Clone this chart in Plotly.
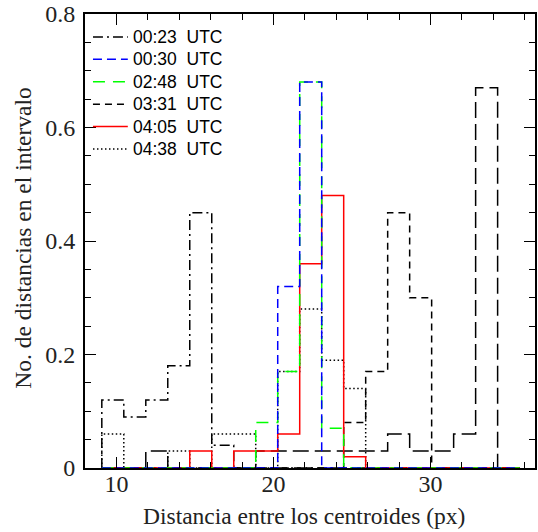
import plotly.graph_objects as go

# Bin edges (px distance)
bin_edges = [9.07, 10.47, 11.87, 13.27, 14.67, 16.07, 17.47, 18.87, 20.27, 21.67,
             23.07, 24.47, 25.87, 27.27, 28.67, 30.07, 31.47, 32.87, 34.27, 35.67]

# Fraction of distances in each bin (19 bins)
t0023 = [0.12, 0.09, 0.12, 0.18, 0.45, 0.04, 0, 0, 0, 0, 0, 0, 0, 0, 0, 0, 0, 0, 0]
t0030 = [0, 0, 0, 0, 0, 0, 0, 0, 0.32, 0.68, 0, 0, 0, 0, 0, 0, 0, 0, 0]
t0248 = [0, 0, 0, 0, 0, 0, 0, 0.08, 0.17, 0.68, 0.07, 0, 0, 0, 0, 0, 0, 0, 0]
t0331 = [0, 0, 0, 0, 0, 0, 0, 0, 0, 0, 0, 0.08, 0.17, 0.45, 0.30, 0, 0, 0, 0]
t0405 = [0, 0, 0, 0, 0.03, 0, 0.03, 0.03, 0.06, 0.36, 0.48, 0.02, 0, 0, 0, 0, 0, 0, 0]
t0438 = [0.06, 0, 0, 0.03, 0, 0.06, 0.06, 0, 0.17, 0.28, 0.19, 0.14, 0, 0, 0, 0, 0, 0, 0]
extra = [0, 0, 0.03, 0, 0, 0, 0, 0.03, 0.03, 0.03, 0.03, 0.03, 0.03, 0.06, 0.03, 0.03, 0.06, 0.67, 0]

series_names = ["00:23  UTC", "00:30  UTC", "02:48  UTC", "03:31  UTC", "04:05  UTC", "04:38  UTC"]

x_ticks = [10, 20, 30]
y_ticks = [0, 0.2, 0.4, 0.6, 0.8]
y_ticklabels = ["0", "0.2", "0.4", "0.6", "0.8"]

# plot area in pixels (for placing the hand-made legend)
PL, PR, PT, PB = 85, 537, 13, 468


def px_x(p):
    return (p - PL) / (PR - PL)


def px_y(p):
    return (PB - p) / (PB - PT)


def step_xy(values):
    xs = [bin_edges[0]] + list(bin_edges)
    ys = [0] + list(values) + [0]
    return xs, ys


fig = go.Figure()

styles = [
    # (values, legend index, color, dash)
    (extra, None, "black", "16px,6px"),
    (t0331, 3, "black", "7px,5px"),
    (t0023, 0, "black", "10px,4px,2px,4px"),
    (t0438, 5, "black", "1.5px,2.5px"),
    (t0405, 4, "#ff0000", "solid"),
    (t0248, 2, "#00ff00", "12px,8px"),
    (t0030, 1, "#0000ff", "9px,5px"),
]

legend_rows = {}
for vals, idx, color, dash in styles:
    xs, ys = step_xy(vals)
    fig.add_trace(go.Scatter(
        x=xs, y=ys, mode="lines", line_shape="hv",
        line=dict(color=color, width=1.5, dash=dash),
        name=series_names[idx] if idx is not None else "",
        showlegend=False, hoverinfo="skip",
    ))
    if idx is not None:
        legend_rows[idx] = (color, dash)

shapes = []
annotations = []
row_y0, row_step = 36, 22.45
for idx in range(len(series_names)):
    color, dash = legend_rows[idx]
    yy = px_y(row_y0 + idx * row_step)
    shapes.append(dict(type="line", xref="paper", yref="paper",
                       x0=px_x(93), x1=px_x(128), y0=yy, y1=yy,
                       line=dict(color=color, width=1.5, dash=dash)))
    annotations.append(dict(text=series_names[idx].replace("  ", "\u00a0\u00a0"),
                            xref="paper", yref="paper", x=px_x(131), y=yy,
                            xanchor="left", yanchor="middle", showarrow=False,
                            font=dict(family="Liberation Sans, Arial, sans-serif", size=17.5, color="black")))

axis_font = dict(family="Liberation Serif, Times New Roman, serif", size=24, color="#222")
title_font = dict(family="Liberation Serif, Times New Roman, serif", size=23.5, color="#222")

annotations += [
    dict(text="Distancia entre los centroides (px)", xref="paper", yref="paper",
         x=px_x(304.5), y=px_y(516), xanchor="center", yanchor="middle", showarrow=False,
         font=title_font),
    dict(text="No. de distancias en el intervalo", xref="paper", yref="paper",
         x=px_x(22), y=px_y(238), xanchor="center", yanchor="middle", showarrow=False, textangle=-90,
         font=title_font),
]

fig.update_layout(
    width=538, height=532,
    margin=dict(l=PL, r=538 - PR, t=PT, b=532 - PB),
    paper_bgcolor="white", plot_bgcolor="white",
    showlegend=False,
    xaxis=dict(
        range=[8, 36.65], showgrid=False, zeroline=False,
        showline=True, linecolor="black", linewidth=2, mirror="allticks",
        ticks="inside", ticklen=11, tickwidth=1.3, tickcolor="black",
        tickvals=x_ticks, ticktext=[str(v) for v in x_ticks],
        tickfont=axis_font, ticklabelstandoff=-7,
        minor=dict(dtick=2, tick0=0, ticks="inside", ticklen=6, tickwidth=1.3, tickcolor="black"),
    ),
    yaxis=dict(
        range=[0, 0.8], showgrid=False, zeroline=False,
        showline=True, linecolor="black", linewidth=2, mirror="allticks",
        ticks="inside", ticklen=11, tickwidth=1.3, tickcolor="black",
        tickvals=y_ticks, ticktext=y_ticklabels,
        tickfont=axis_font, ticklabelstandoff=3,
        minor=dict(dtick=0.05, tick0=0, ticks="inside", ticklen=6, tickwidth=1.3, tickcolor="black"),
    ),
    shapes=shapes,
    annotations=annotations,
)

fig.write_html("out.html")
